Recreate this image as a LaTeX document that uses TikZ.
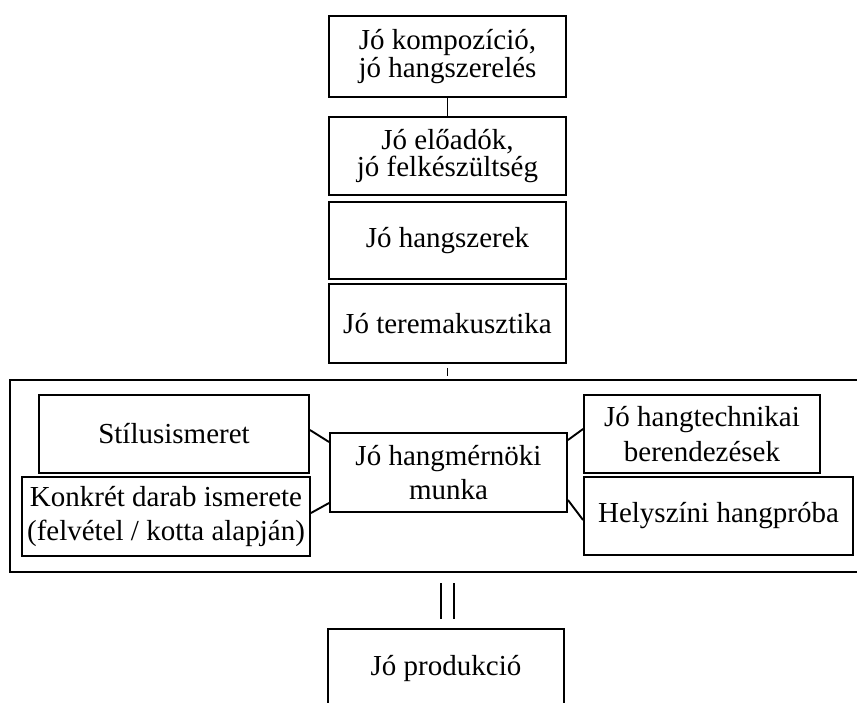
\documentclass[tikz,border=0pt]{standalone}
\usepackage{fontspec}
\setmainfont{Liberation Serif}
\begin{document}
\begin{tikzpicture}[x=1pt,y=-1pt,
  box/.style={draw, line width=1.9pt, inner sep=0pt, align=center,
    minimum height=78pt, font=\fontsize{29}{26}\selectfont},
  boxb/.style={box, font=\fontsize{29}{34.5}\selectfont},
  conn/.style={line width=1.9pt}]
\useasboundingbox (0,0) rectangle (857,702);
\clip (0,0) rectangle (857,702);
% vertical stack
\node[box, minimum width=237pt, minimum height=81pt] (b1) at (447.5,56.5) {Jó kompozíció,\\jó hangszerelés};
\node[box, minimum width=237pt, font=\fontsize{29}{27.5}\selectfont] (b2) at (447.5,156) {Jó előadók,\\ jó felkészültség};
\node[box, minimum width=237pt, minimum height=77pt] (b3) at (447.5,240.5) {Jó hangszerek};
\node[box, minimum width=237pt, minimum height=79pt] (b4) at (447.5,323.5) {Jó teremakusztika};
% frame
\node[draw, line width=1.9pt, minimum width=870pt, minimum height=192pt, inner sep=0pt] (frame) at (445,476) {};
% inner boxes
\node[boxb, minimum width=270pt] (stil) at (174,434) {Stílusismeret};
\node[boxb, minimum width=288pt, minimum height=79pt] (konk) at (166,516.5) {Konkrét darab ismerete\\(felvétel / kotta alapján)};
\node[boxb, minimum width=237pt, minimum height=79pt] (cen) at (448.5,472.5) {Jó hangmérnöki\\munka};
\node[boxb, minimum width=236pt] (hang) at (702,434) {Jó hangtechnikai\\berendezések};
\node[boxb, minimum width=269pt] (hely) at (718.5,516) {Helyszíni hangpróba};
% production
\node[box, minimum width=236pt] (prod) at (446,668) {Jó produkció};
% connectors
\draw[conn] (b1.south) -- (b2.north);
\coordinate (t1) at ([yshift=-4pt]b4.south);
\coordinate (t2) at ([yshift=-12pt]b4.south);
\draw[conn] (t1) -- (t2);
\draw[conn] ([yshift=4pt]stil.east) -- ([yshift=30.5pt]cen.west);
\draw[conn] ([yshift=3.5pt]konk.east) -- ([yshift=-30.5pt]cen.west);
\draw[conn] ([yshift=32.5pt]cen.east) -- ([yshift=5pt]hang.west);
\draw[conn] ([yshift=-27.5pt]cen.east) -- ([yshift=-4pt]hely.west);
% equals bars
\coordinate (e1a) at (441,583);
\coordinate (e1b) at (441,619);
\coordinate (e2a) at (454,583);
\coordinate (e2b) at (454,619);
\draw[line width=2.8pt] (e1a) -- (e1b);
\draw[line width=2.8pt] (e2a) -- (e2b);
\end{tikzpicture}
\end{document}
